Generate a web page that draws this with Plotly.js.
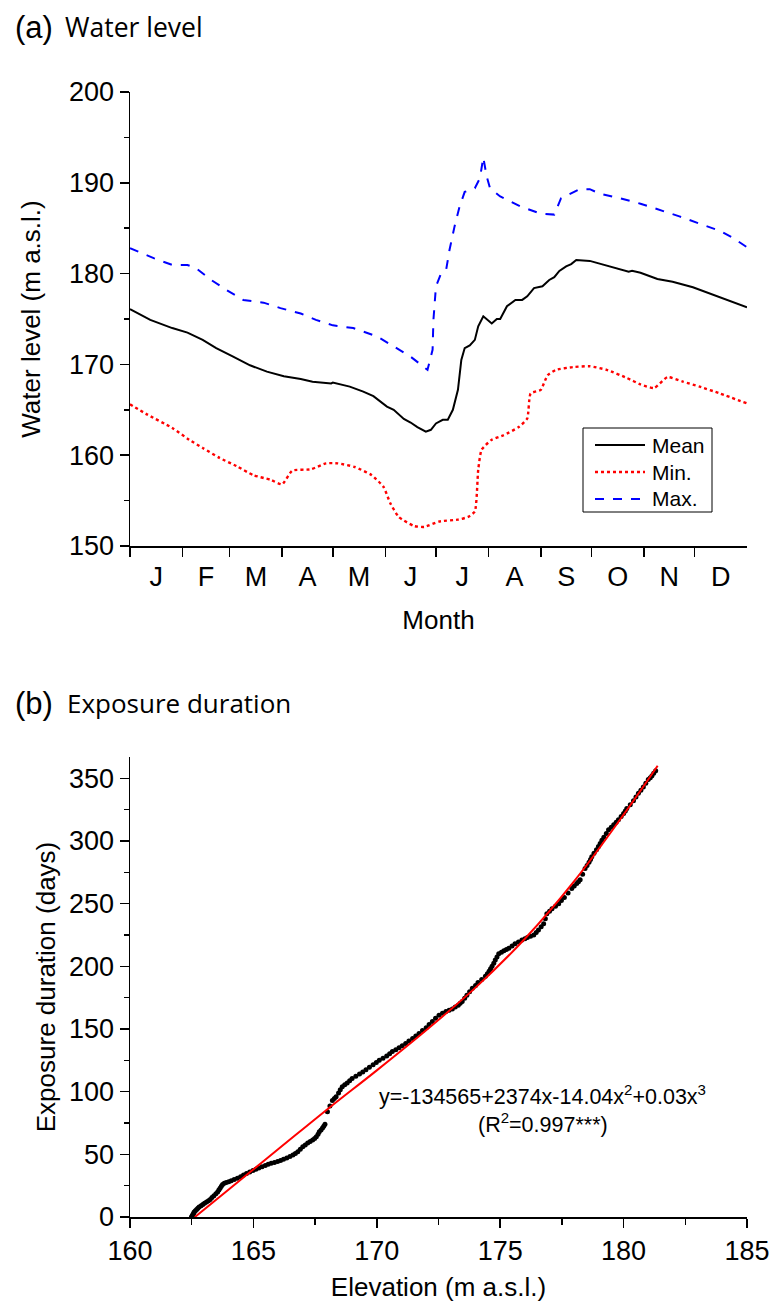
<!DOCTYPE html>
<html><head><meta charset="utf-8">
<script src="https://cdn.plot.ly/plotly-3.0.1.min.js"></script>
<style>html,body{margin:0;padding:0;background:#fff}</style>
</head><body><div id="chart" style="width:771px;height:1306px"></div>
<script>
// ---- Panel (a): water level by day of year ----
const monthLabels = ['J','F','M','A','M','J','J','A','S','O','N','D'];
const monthStartDay = [0,31,59,90,120,151,181,212,243,273,304,334];
const monthMidDay = [15.5,45,74.5,105,135.5,166,196.5,227.5,258,288.5,319,349.5];

const meanDay = [0,12,25,34,43,51,61,71,81,91,101,108,119,120,130,138,144,152,156,160,162,166,170,175,178,181,185,188,191,194,196,198,201,204,206,209,214,217,219,223,228,232,235,239,244,248,251,254,258,261,264,272,278,286,295,297,302,312,321,333,343,355,365];
const meanLevel = [176.1,174.9,174.0,173.5,172.7,171.8,170.85,169.9,169.2,168.7,168.4,168.1,167.9,168.0,167.55,167.0,166.5,165.35,165.0,164.3,164.0,163.6,163.1,162.6,162.8,163.5,163.9,163.9,165.0,167.2,170.5,171.8,172.1,172.7,174.2,175.3,174.5,175.0,175.0,176.4,177.1,177.1,177.5,178.4,178.6,179.3,179.6,180.3,180.8,181.05,181.5,181.4,181.1,180.7,180.2,180.3,180.1,179.4,179.1,178.5,177.8,177.0,176.3];

const minDay = [0,10,25,35,43,53,63,73,83,90,96,107,116,123,133,143,150,154,159,168,174,183,194,200,204,206,208,214,221,230,235,237,243,247,252,262,272,282,294,302,310,318,327,337,349,365];
const minLevel = [165.6,164.5,163.0,161.7,160.8,159.7,158.8,157.8,157.3,156.8,158.3,158.45,159.1,159.1,158.7,157.8,156.5,154.7,153.2,152.2,152.1,152.7,152.9,153.2,153.8,158.4,160.6,161.7,162.2,163.1,164.05,166.8,167.2,168.8,169.4,169.7,169.8,169.4,168.5,167.8,167.4,168.6,168.1,167.55,166.8,165.7];

const maxDay = [0,14,25,34,39,48,57,67,79,89,101,110,120,132,146,156,166,176,179,179.5,181,184,187,189,192,195,198,204,207,209,211,213,219,231,243,251,255,266,272,278,290,302,314,325,337,349,357,365];
const maxLevel = [182.8,181.7,180.95,180.95,180.6,179.3,178.2,177.1,176.8,176.2,175.6,174.9,174.3,174.0,173.1,172.0,170.85,169.4,171.6,174.9,178.6,180.0,180.4,182.6,185.2,187.4,189.0,189.4,190.5,192.8,190.7,189.4,188.5,187.4,186.6,186.5,188.3,189.3,189.3,188.8,188.3,187.7,187.0,186.3,185.5,184.7,183.9,182.9];

const legendNames = ['Mean', 'Min.', 'Max.'];

// ---- Panel (b): exposure duration vs elevation ----
const expElev = [162.49,162.52,162.55,162.58,162.6,162.65,162.7,162.75,162.8,162.88,162.95,163.02,163.1,163.18,163.25,163.32,163.4,163.48,163.55,163.6,163.65,163.7,163.75,163.82,163.9,164.0,164.1,164.22,164.35,164.48,164.6,164.72,164.85,164.98,165.1,165.22,165.35,165.48,165.6,165.72,165.85,165.98,166.1,166.22,166.35,166.48,166.6,166.7,166.8,166.9,167.0,167.1,167.2,167.3,167.4,167.48,167.55,167.62,167.67,167.74,167.8,167.85,167.9,168.0,168.1,168.2,168.28,168.35,168.45,168.52,168.6,168.7,168.8,168.9,169.0,169.15,169.3,169.43,169.56,169.7,169.85,169.98,170.1,170.25,170.4,170.52,170.63,170.77,170.9,171.03,171.17,171.3,171.45,171.58,171.71,171.85,172.0,172.12,172.25,172.38,172.52,172.66,172.8,172.93,173.06,173.18,173.3,173.38,173.46,173.56,173.65,173.76,173.87,174.0,174.1,174.25,174.4,174.48,174.55,174.61,174.67,174.74,174.8,174.87,174.94,175.05,175.15,175.25,175.35,175.48,175.6,175.74,175.88,176.0,176.1,176.23,176.36,176.46,176.55,176.66,176.76,176.83,176.89,177.0,177.1,177.24,177.37,177.48,177.6,177.75,177.9,178.0,178.1,178.17,178.24,178.34,178.44,178.52,178.6,178.66,178.71,178.8,178.9,178.98,179.05,179.12,179.2,179.3,179.39,179.5,179.6,179.7,179.79,179.9,180.0,180.07,180.13,180.27,180.4,180.5,180.6,180.7,180.8,180.9,181.0,181.08,181.15,181.22,181.3];
const expDays = [0,1,2,3,4,5,6,7,8,9,10,11,12,13,14,15.5,17,18.5,20,21.5,23,24.5,26,27,27.5,28.2,29,30,31,32.2,33.5,34.7,36,37,38,39,40,41,42,42.8,43.5,44.2,45,46,47,48.2,49.5,50.7,52,54,56,57.5,59,60.2,61.5,62.7,64,66,68,69.5,71,72.5,74,84,88.5,93,94.5,96,99,101.5,104,105.5,107,108.7,110.5,112.2,114,115.7,117.5,119.5,121.5,123.2,125,126.7,128.5,130.2,132,133.5,135,136.7,138.5,140.5,142.5,144.5,146.5,148.7,151,153.5,156,158.5,161,162.5,164,165,166,167.5,169,170.5,172,174.5,177,179.7,182.5,184.7,187,189.5,192,194,196,198,200,202.5,205,207.5,210,211.2,212.5,213.5,214.5,216.2,218,219.5,221,222,223,224,225,227,229,231.5,234,238,242,244,246,248,250,252.5,255,258.5,262,264,266,267.5,269,273.5,278,280.5,283,285.2,287.5,290.2,293,295.5,298,300.5,303,306,309,311,313,315,317,319.5,322,324,326,329,332,335,338,340.5,343,346,349,350.5,352,354,356];

const fitElev = [162.63,164,166,168,170,172,174,176,178,180,181.38];
const fitDays = [0,22,54,86,117,149,183,222,268,321,360];

const equationText = 'y=-134565+2374x-14.04x<sup>2</sup>+0.03x<sup>3</sup>';
const r2Text = '(R<sup>2</sup>=0.997***)';

const AR = 'Liberation Sans, Arial, sans-serif';
const TF = 'Open Sans, sans-serif';
const W = 771, H = 1306;
const px = x => x / W, py = y => 1 - y / H;

const traces = [
  {x: meanDay, y: meanLevel, name: legendNames[0], type: 'scatter', mode: 'lines',
   line: {color: '#000000', width: 2}, xaxis: 'x', yaxis: 'y', showlegend: false},
  {x: minDay, y: minLevel, name: legendNames[1], type: 'scatter', mode: 'lines',
   line: {color: '#ff0000', width: 2.4, dash: 'dot', shape: 'spline', smoothing: 0.5}, xaxis: 'x', yaxis: 'y', showlegend: false},
  {x: maxDay, y: maxLevel, name: legendNames[2], type: 'scatter', mode: 'lines',
   line: {color: '#0000ff', width: 2, dash: 'dash'}, xaxis: 'x', yaxis: 'y', showlegend: false},
  {x: expElev, y: expDays, name: 'Exposure', type: 'scatter', mode: 'markers',
   marker: {color: '#000000', size: 5}, showlegend: false, xaxis: 'x2', yaxis: 'y2'},
  {x: fitElev, y: fitDays, name: 'Fit', type: 'scatter', mode: 'lines',
   line: {color: '#ff0000', width: 2, shape: 'spline'}, showlegend: false, xaxis: 'x2', yaxis: 'y2'}
];

const axBase = {showline: true, linecolor: '#000', linewidth: 1.5, showgrid: false, zeroline: false,
  tickcolor: '#000', tickwidth: 1.5, automargin: false, tickfont: {family: AR, size: 27, color: '#000'}};
const titleFont = {family: AR, size: 26, color: '#000'};

// manual legend box (Origin style)
const legY = [445, 472, 499];
const legDash = ['solid', 'dot', 'dash'];
const legColor = ['#000000', '#ff0000', '#0000ff'];
const shapes = [{type: 'rect', xref: 'paper', yref: 'paper', x0: px(583), x1: px(712), y0: py(512), y1: py(428),
  line: {color: '#000', width: 1}, fillcolor: 'rgba(255,255,255,0)'}];
const legendAnn = [];
legendNames.forEach((n, i) => {
  shapes.push({type: 'line', xref: 'paper', yref: 'paper', x0: px(595), x1: px(645), y0: py(legY[i]), y1: py(legY[i]),
    line: {color: legColor[i], width: i === 1 ? 2.4 : 2, dash: legDash[i]}});
  legendAnn.push({text: n, x: px(650), y: py(legY[i]), xref: 'paper', yref: 'paper', xanchor: 'left', yanchor: 'middle',
    showarrow: false, font: {family: AR, size: 21, color: '#000'}});
});

const layout = {
  width: W, height: H, margin: {l: 0, r: 0, t: 0, b: 0},
  paper_bgcolor: '#fff', plot_bgcolor: '#fff', showlegend: false,
  xaxis: Object.assign({}, axBase, {
    domain: [px(130), px(747)], anchor: 'y', range: [0, 365],
    tickmode: 'array', tickvals: monthMidDay, ticktext: monthLabels, ticks: '', ticklabelstandoff: 6,
    minor: {tickmode: 'array', tickvals: monthStartDay, ticks: 'outside', ticklen: 9, tickwidth: 1.5, tickcolor: '#000'},
    title: {text: 'Month', font: titleFont, standoff: 20}
  }),
  yaxis: Object.assign({}, axBase, {
    domain: [py(546), py(92)], anchor: 'x', range: [150, 200],
    tickmode: 'linear', tick0: 150, dtick: 10, ticks: 'outside', ticklen: 9,
    minor: {dtick: 5, ticks: 'outside', ticklen: 5, tickwidth: 1.5, tickcolor: '#000'},
    title: {text: 'Water level (m a.s.l.)', font: titleFont, standoff: 21}
  }),
  xaxis2: Object.assign({}, axBase, {
    domain: [px(130), px(747)], anchor: 'y2', range: [160, 185],
    tickmode: 'linear', tick0: 160, dtick: 5, ticks: 'outside', ticklen: 9,
    minor: {dtick: 2.5, ticks: 'outside', ticklen: 6, tickwidth: 1.5, tickcolor: '#000'},
    title: {text: 'Elevation (m a.s.l.)', font: titleFont, standoff: 13}
  }),
  yaxis2: Object.assign({}, axBase, {
    domain: [py(1217), py(757)], anchor: 'x2', range: [0, 367],
    tickmode: 'linear', tick0: 0, dtick: 50, ticks: 'outside', ticklen: 9,
    minor: {dtick: 25, ticks: 'outside', ticklen: 5, tickwidth: 1.5, tickcolor: '#000'},
    title: {text: 'Exposure duration (days)', font: titleFont, standoff: 6}
  }),
  shapes: shapes,
  annotations: [
    {text: '(a)', x: px(13), y: py(27), xref: 'paper', yref: 'paper', xanchor: 'left', yanchor: 'middle',
     showarrow: false, font: {family: AR, size: 31, color: '#000'}},
    {text: 'Water level', x: px(63), y: py(27), xref: 'paper', yref: 'paper', xanchor: 'left', yanchor: 'middle',
     showarrow: false, font: {family: TF, size: 26.5, color: '#000'}},
    {text: '(b)', x: px(13), y: py(703), xref: 'paper', yref: 'paper', xanchor: 'left', yanchor: 'middle',
     showarrow: false, font: {family: AR, size: 31, color: '#000'}},
    {text: 'Exposure duration', x: px(65), y: py(703), xref: 'paper', yref: 'paper', xanchor: 'left', yanchor: 'middle',
     showarrow: false, font: {family: TF, size: 26, color: '#000'}},
    {text: equationText, x: px(542), y: py(1095), xref: 'paper', yref: 'paper', xanchor: 'center', yanchor: 'middle',
     showarrow: false, font: {family: AR, size: 21.5, color: '#000'}},
    {text: r2Text, x: px(543), y: py(1123), xref: 'paper', yref: 'paper', xanchor: 'center', yanchor: 'middle',
     showarrow: false, font: {family: AR, size: 21.5, color: '#000'}}
  ].concat(legendAnn)
};

Plotly.newPlot('chart', traces, layout, {displayModeBar: false, staticPlot: true});
</script>
</body></html>
